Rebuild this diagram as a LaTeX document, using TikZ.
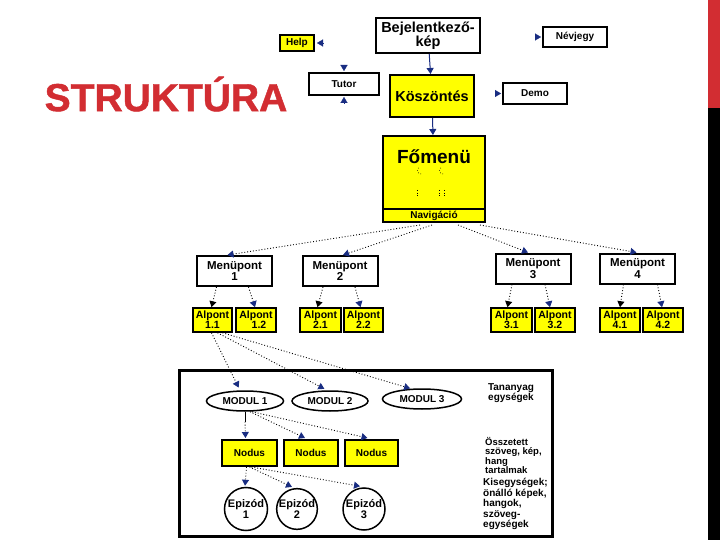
\documentclass[tikz,border=0pt]{standalone}
\usepackage{fontspec}
\setmainfont{Liberation Sans}
\newfontfamily\titlefont{Liberation Sans}[BoldFeatures={FakeBold=1.2}]
\usetikzlibrary{arrows.meta,shapes.geometric,calc}
\definecolor{navy}{RGB}{25,45,130}
\definecolor{titlered}{RGB}{210,45,50}
\definecolor{ylw}{RGB}{255,255,0}
\newcommand{\fs}[2]{\fontsize{#1}{#2}\selectfont\bfseries}
\tikzset{
  box/.style={draw=black, line width=2pt, fill=white, inner sep=0pt, align=center},
  ybox/.style={box, fill=ylw},
  alp/.style={ybox, line width=1.6pt, minimum width=40pt, minimum height=24pt, font=\fs{10.5}{10}},
  menu/.style={box, minimum width=75pt, minimum height=30pt, font=\fs{11.5}{11.5}},
  modul/.style={ellipse, draw=black, line width=1.5pt, fill=white, inner sep=0pt, minimum height=20pt, font=\fs{10}{10}},
  nodus/.style={ybox, minimum height=26pt, font=\fs{10}{10}},
  epi/.style={circle, draw=black, line width=1.5pt, fill=white, inner sep=0pt, align=center, font=\fs{11}{11}},
  side/.style={inner sep=0pt, align=left, font=\fs{10}{10.8}},
  navtip/.style={-{Triangle[length=6pt,width=7pt,color=navy,fill=navy]}},
  blktip/.style={-{Triangle[length=6pt,width=7pt,color=black,fill=black]}},
  solidarr/.style={navtip, draw=navy, line width=1pt},
  dotarr/.style={navtip, dotted, line width=0.9pt},
  dotarrk/.style={blktip, dotted, line width=0.9pt},
  tiponly/.style={navtip, line width=0.1pt, draw=navy},
}
\begin{document}
\begin{tikzpicture}[x=1pt,y=-1pt]
\path[use as bounding box, fill=white] (0,0) rectangle (720,540);
% right side bars
\fill[titlered] (708,0) rectangle (720,108);
\fill[black] (708,108) rectangle (720,540);
% title
\node[text=titlered, font={\titlefont\fontsize{39}{39}\selectfont\bfseries}] (title) at (166,94) {STRUKTÚRA};

% top row
\node[ybox, minimum width=34pt, minimum height=16pt, font=\fs{10}{10}] (help) at (297,43) {Help};
\node[box, minimum width=104pt, minimum height=35pt, font=\fs{14.5}{14}] (bej) at (428,35.5) {Bejelentkező-\\kép};
\node[box, minimum width=64pt, minimum height=20pt, font=\fs{10}{10}] (nev) at (575,37) {Névjegy};
\node[box, minimum width=70pt, minimum height=22pt, font=\fs{10}{10}] (tutor) at (344,84) {Tutor};
\node[ybox, minimum width=84pt, minimum height=42pt, font=\fs{14.5}{14}] (kosz) at (432,96) {Köszöntés};
\node[box, minimum width=64pt, minimum height=21pt, font=\fs{10}{10}] (demo) at (535,93.5) {Demo};

% Fomenu
\node[ybox, minimum width=102pt, minimum height=86pt] (fomenu) at (434,179) {};
\draw[line width=1.5pt] ($(fomenu.south west)+(0,-14)$) -- ($(fomenu.south east)+(0,-14)$);
\node[font=\fs{19}{19}, inner sep=0pt] (fotext) at (434,157) {Főmenü};
\node[font=\fs{10}{10}, inner sep=0pt] (nav) at (434,215.5) {Navigáció};
\begin{scope}[dotted, line width=0.6pt]
\draw (421,174) arc (90:250:3.5);
\draw (443,174) arc (90:250:3.5);
\draw (417,190) -- (417,197);
\draw (439,190) -- (439,197);
\draw (444,190) -- (444,197);
\end{scope}

% Menupont
\node[menu] (m1) at (234.5,271) {Menüpont\\1};
\node[menu] (m2) at (340,271) {Menüpont\\2};
\node[menu] (m3) at (533,268.5) {Menüpont\\3};
\node[menu] (m4) at (637.5,268.5) {Menüpont\\4};

% Alpont
\node[alp, minimum width=39pt] (a11) at (212.5,320) {Alpont\\1.1};
\node[alp] (a12) at (256,320) {Alpont\\\hspace*{6pt}1.2};
\node[alp, minimum width=41pt] (a21) at (320.5,320) {Alpont\\2.1};
\node[alp, minimum width=39pt] (a22) at (363.5,320) {Alpont\\2.2};
\node[alp, minimum width=41pt] (a31) at (511.5,320) {Alpont\\3.1};
\node[alp] (a32) at (555,320) {Alpont\\3.2};
\node[alp] (a41) at (620,320) {Alpont\\4.1};
\node[alp] (a42) at (663,320) {Alpont\\4.2};

% big frame
\draw[line width=3pt] (179,370) rectangle (552,536);

% moduls
\node[modul, minimum width=77pt] (mod1) at (245,401) {MODUL 1};
\node[modul, minimum width=76pt] (mod2) at (330,401) {MODUL 2};
\node[modul, minimum width=79pt] (mod3) at (422,399) {MODUL 3};

% nodus
\node[nodus, minimum width=55pt] (n1) at (249.5,453) {Nodus};
\node[nodus, minimum width=54pt] (n2) at (311,453) {Nodus};
\node[nodus, minimum width=53pt] (n3) at (371.5,453) {Nodus};

% epizod
\node[epi, minimum size=43pt] (e1) at (246,509) {Epizód\\1};
\node[epi, minimum size=40pt] (e2) at (297,509) {Epizód\\2};
\node[epi, minimum size=42pt] (e3) at (364,509) {Epizód\\3};

% side texts
\node[side, align=center, anchor=north] (tan) at (511,383) {Tananyag\\egységek};
\node[side, anchor=north west, font=\fs{9.5}{9.4}] (ossz) at (485,437) {Összetett\\szöveg, kép,\\hang\\tartalmak};
\node[side, anchor=north west, font=\fs{10}{10.6}] (kis) at (483,478) {Kisegységek;\\önálló képek,\\hangok,\\szöveg-\\egységek};

% solid arrows
\draw[solidarr] (bej) -- (kosz);
\draw[solidarr] (kosz) -- (fomenu);

% lone tips
\draw[tiponly] ([xshift=8pt]help.east) -- ([xshift=2pt]help.east);
\draw[tiponly] ([yshift=7pt]tutor.north) -- ([yshift=1pt]tutor.north);
\draw[tiponly] ([yshift=-7pt]tutor.south) -- ([yshift=-1pt]tutor.south);
\draw[tiponly] ([xshift=-7pt]nev.west) -- ([xshift=-1pt]nev.west);
\draw[tiponly] ([xshift=-7pt]demo.west) -- ([xshift=-1pt]demo.west);

% Fomenu -> Menupont
\draw[dotarr] ([xshift=-14pt,yshift=-2pt]fomenu.south) -- ([xshift=-7pt]m1.north);
\draw[dotarr] ([xshift=-2pt,yshift=-2pt]fomenu.south) -- ([xshift=3pt]m2.north);
\draw[dotarr] ([xshift=24pt,yshift=-2pt]fomenu.south) -- ([xshift=-5pt]m3.north);
\draw[dotarr] ([xshift=46pt,yshift=-2pt]fomenu.south) -- ([xshift=-1pt]m4.north);

% Menupont -> Alpont
\draw[dotarrk] ([xshift=-18pt]m1.south) -- ([xshift=-1pt]a11.north);
\draw[dotarr]  ([xshift=14pt]m1.south) -- ([xshift=-1pt]a12.north);
\draw[dotarrk] ([xshift=-17pt]m2.south) -- ([xshift=-3pt]a21.north);
\draw[dotarr]  ([xshift=15pt]m2.south) -- ([xshift=-3pt]a22.north);
\draw[dotarrk] ([xshift=-21pt]m3.south) -- ([xshift=-4pt]a31.north);
\draw[dotarr]  ([xshift=12pt]m3.south) -- ([xshift=-5pt]a32.north);
\draw[dotarrk] ([xshift=-14pt]m4.south) -- ([xshift=0pt]a41.north);
\draw[dotarr]  ([xshift=20pt]m4.south) -- ([xshift=-1pt]a42.north);

% Alpont 1.1 -> Moduls
\draw[dotarr, shorten >=3pt] ([xshift=-1pt]a11.south) -- ([xshift=-5pt]mod1.north);
\draw[dotarr, shorten >=3pt] ([xshift=5pt]a11.south) -- ([xshift=-3pt]mod2.north);
\draw[dotarr, shorten >=3pt] ([xshift=10pt]a11.south) -- ([xshift=-9pt,yshift=-1pt]mod3.north);

% Modul 1 -> Nodus
\draw[line width=1pt] (mod1.south) -- ([yshift=-10pt]mod1.south);
\draw[dotarr] ([yshift=-10pt]mod1.south) -- ([xshift=-4pt,yshift=1pt]n1.north);
\draw[dotarr] ([xshift=5pt]mod1.south) -- ([xshift=-6pt,yshift=1pt]n2.north);
\draw[dotarr] ([xshift=7pt]mod1.south) -- ([xshift=-4pt,yshift=1pt]n3.north);

% Nodus 1 -> Epizod
\draw[dotarr] ([xshift=-3pt]n1.south) -- ([xshift=-1pt,yshift=1pt]e1.north);
\draw[dotarr] (n1.south) -- ([xshift=-5pt,yshift=1pt]e2.north);
\draw[dotarr] ([xshift=2pt]n1.south) -- ([xshift=-4pt,yshift=1pt]e3.north);
\end{tikzpicture}
\end{document}
